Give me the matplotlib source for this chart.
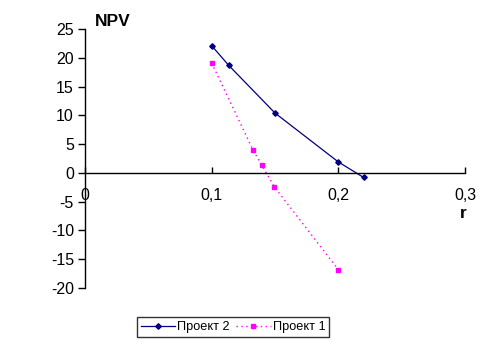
import matplotlib
matplotlib.use('Agg')
import matplotlib.pyplot as plt

plt.rcParams['font.family'] = ['Liberation Sans', 'DejaVu Sans']

# ставки дисконтирования и NPV по проектам
r_project2 = [0.10, 0.1134, 0.15, 0.20, 0.22]
npv_project2 = [22.1, 18.7, 10.4, 1.9, -0.8]

r_project1 = [0.10, 0.1328, 0.1397, 0.1494, 0.20]
npv_project1 = [19.1, 3.9, 1.3, -2.4, -16.8]

x_ticks = [0, 0.1, 0.2, 0.3]
x_tick_labels = ['0', '0,1', '0,2', '0,3']
y_ticks = [-20, -15, -10, -5, 0, 5, 10, 15, 20, 25]

fig = plt.figure(figsize=(4.93, 3.49), dpi=100)
ax = fig.add_axes([0.1724, 0.1748, 0.7708, 0.7421])

ax.plot(r_project2, npv_project2, color='#000080', linewidth=0.9,
        marker='D', markersize=2.8, label='Проект 2')
ax.plot(r_project1, npv_project1, color='#FF00FF', linewidth=1.0,
        linestyle=(0, (1, 2.5)), marker='s', markersize=3, label='Проект 1')

ax.set_xlim(0, 0.3)
ax.set_ylim(-20, 25)

# ось X проходит через ноль
ax.spines['bottom'].set_position(('data', 0))
ax.spines['top'].set_visible(False)
ax.spines['right'].set_visible(False)
for sp in ('left', 'bottom'):
    ax.spines[sp].set_linewidth(1.0)

ax.set_xticks(x_ticks)
ax.set_xticklabels(x_tick_labels)
ax.set_yticks(y_ticks)
ax.set_yticklabels([str(v) for v in y_ticks])
ax.tick_params(axis='y', direction='out', length=5, width=1, labelsize=11.5, pad=3)
ax.tick_params(axis='x', direction='in', length=4, width=1, labelsize=11.5, pad=11)

fig.text(95 / 493, 1 - 22 / 349, 'NPV', fontsize=12.5, fontweight='bold',
         ha='left', va='center')
fig.text(463 / 493, 1 - 213 / 349, 'r', fontsize=12.5, fontweight='bold',
         ha='center', va='center')

leg = fig.legend(loc='center', bbox_to_anchor=(233 / 493, 1 - 327 / 349),
                 ncol=2, fontsize=9.2, frameon=True, fancybox=False,
                 edgecolor='black', handlelength=2.7, handletextpad=0.15,
                 columnspacing=0.5, borderpad=0.3, borderaxespad=0)
leg.get_frame().set_linewidth(1.0)

fig.savefig('out.png', dpi=100)
